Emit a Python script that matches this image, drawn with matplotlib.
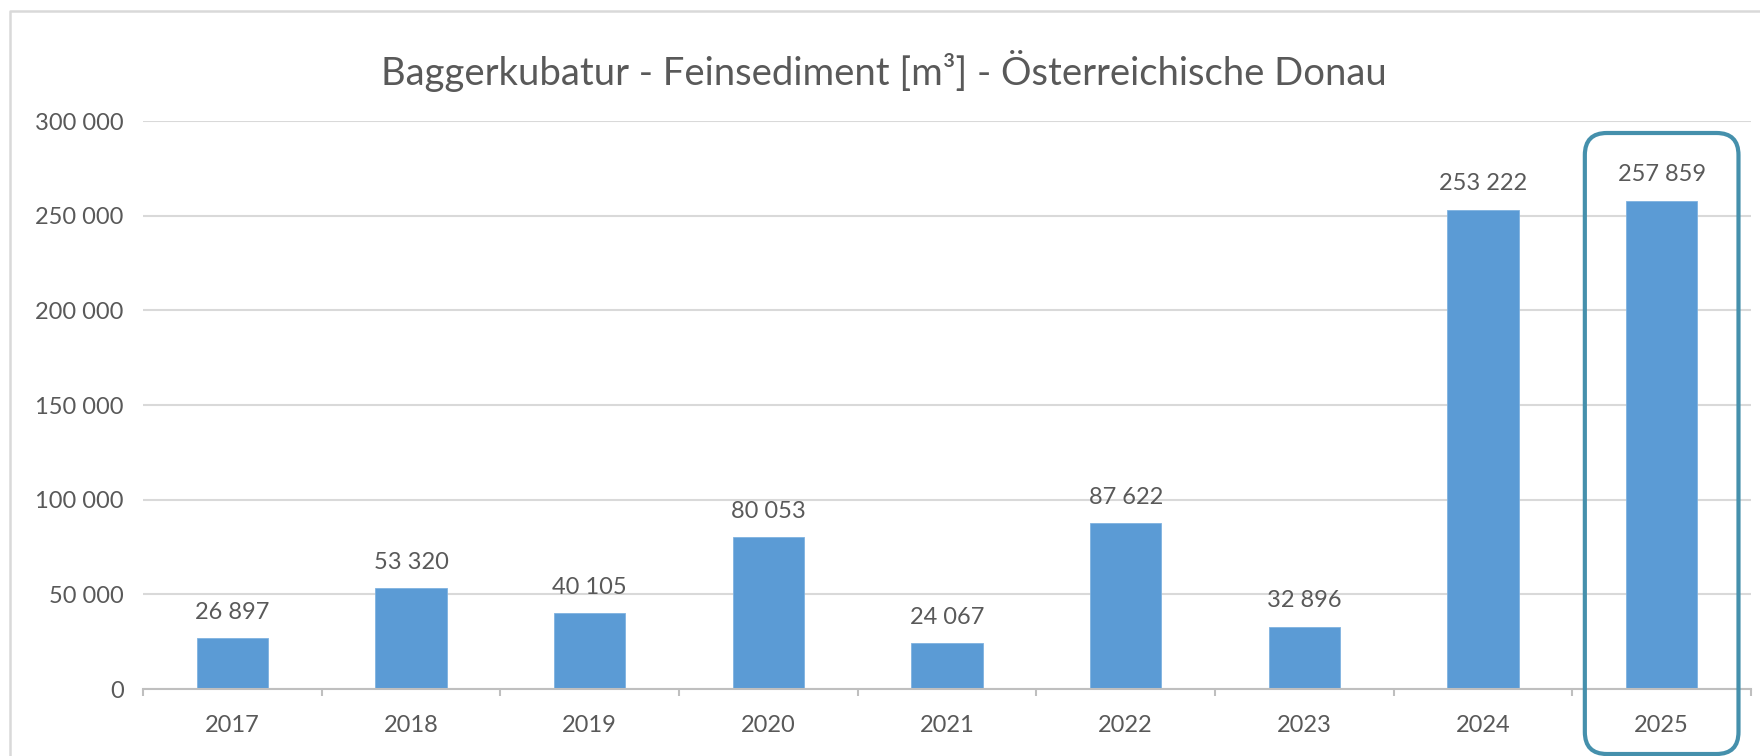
import matplotlib
matplotlib.use("Agg")
import matplotlib.pyplot as plt
from matplotlib.patches import FancyBboxPatch
from matplotlib.lines import Line2D
from matplotlib.ticker import FuncFormatter, FixedLocator

# data
years = ["2017", "2018", "2019", "2020", "2021", "2022", "2023", "2024", "2025"]
volumes = [26897, 53320, 40105, 80053, 24067, 87622, 32896, 253222, 257859]
yticks = [0, 50000, 100000, 150000, 200000, 250000, 300000]
title = "Baggerkubatur - Feinsediment [m³] - Österreichische Donau"

plt.rcParams['font.family'] = ['Lato', 'DejaVu Sans']
txt = "#595959"
grid = "#D9D9D9"

W, H = 1760, 756
fig = plt.figure(figsize=(W / 100, H / 100), dpi=100)
fig.patch.set_facecolor("white")

ax = fig.add_axes([143 / W, 1 - 689 / H, (1751 - 143) / W, (689 - 121) / H])

x = list(range(len(years)))
ax.bar(x, volumes, width=0.4, color="#5B9BD5", edgecolor="#7FB2E0", linewidth=0.6, zorder=3)

for xi, v in zip(x, volumes):
    ax.annotate(f"{v:,}".replace(",", " "), (xi, v), xytext=(0, 14), textcoords="offset points",
                ha="center", va="baseline", fontsize=17, color=txt)

ax.set_xlim(-0.5, len(years) - 0.5)
ax.set_ylim(0, 300000)
ax.set_yticks(yticks)
ax.yaxis.set_major_formatter(FuncFormatter(lambda v, p: f"{int(v):,}".replace(",", " ")))
ax.set_xticks(x)
ax.set_xticklabels(years)
ax.xaxis.set_minor_locator(FixedLocator([i - 0.5 for i in range(len(years) + 1)]))

ax.tick_params(axis="x", which="major", length=0, pad=19, labelsize=17, labelcolor=txt)
ax.tick_params(axis="x", which="minor", length=5, width=1.5, color="#BFBFBF", direction="out")
ax.tick_params(axis="y", length=0, pad=14, labelsize=17, labelcolor=txt)

ax.grid(axis="y", color=grid, linewidth=1.5, zorder=0)
for s in ["top", "right", "left"]:
    ax.spines[s].set_visible(False)
ax.spines["bottom"].set_color("#BFBFBF")
ax.spines["bottom"].set_linewidth(1.5)
ax.spines["bottom"].set_zorder(4)

fig.text(884 / W, 1 - 71 / H, title, ha="center", va="center", fontsize=27.5, color=txt)

# outer chart border (only top and left visible)
fig.add_artist(Line2D([10 / W, 10 / W, 1], [0, 1 - 11 / H, 1 - 11 / H],
                      transform=fig.transFigure, color=grid, linewidth=1.8))

# highlight box around the last bar
x0 = ax.transData.transform((len(years) - 1 - 0.43, 0))[0]
x1 = ax.transData.transform((len(years) - 1 + 0.43, 0))[0]
box = FancyBboxPatch((x0, H - 754), x1 - x0, 754 - 133,
                     boxstyle="round,pad=0,rounding_size=22",
                     transform=None, fill=False, edgecolor="#4590AC", linewidth=3, zorder=10)
fig.add_artist(box)

fig.savefig("out.png", dpi=100)
